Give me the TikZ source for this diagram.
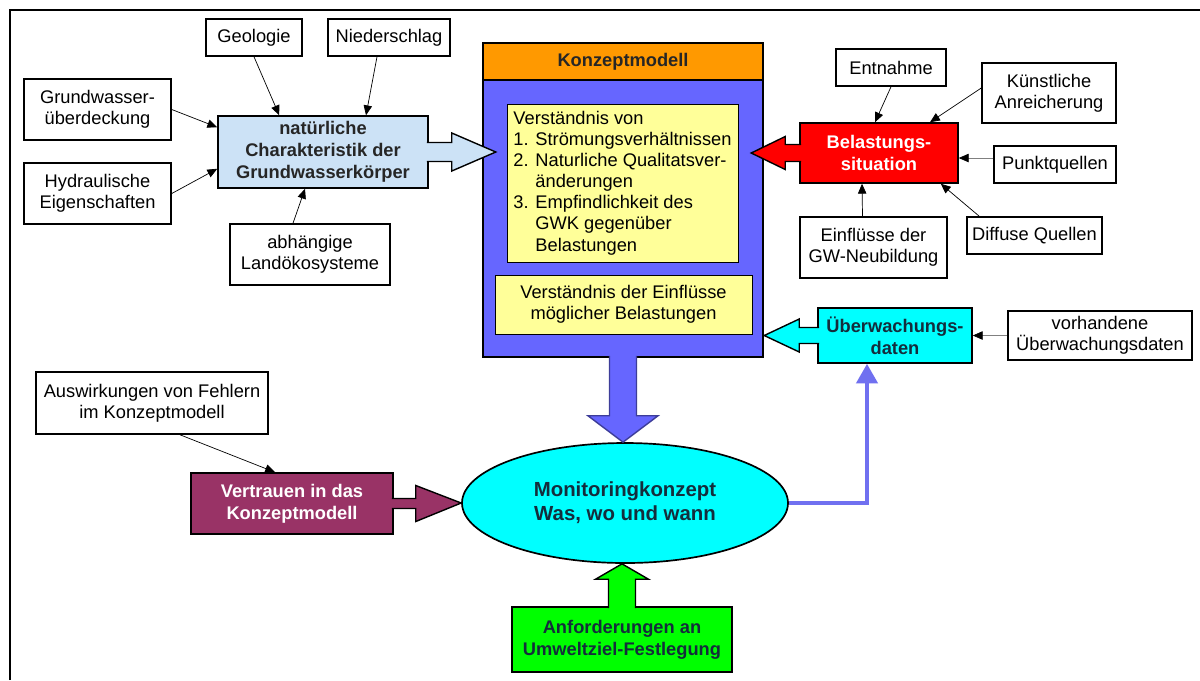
\documentclass[tikz,border=0pt]{standalone}
\usepackage{fontspec}
\setmainfont{Liberation Sans}
\usepackage{xcolor}
\usetikzlibrary{arrows.meta,calc,shapes.geometric}

\definecolor{natblau}{RGB}{204,226,246}
\definecolor{konzorange}{RGB}{255,153,0}
\definecolor{konzblau}{RGB}{102,102,255}
\definecolor{gelb}{RGB}{255,255,153}
\definecolor{belrot}{RGB}{255,0,0}
\definecolor{tuerkis}{RGB}{0,255,255}
\definecolor{weinrot}{RGB}{153,51,102}
\definecolor{hellgruen}{RGB}{0,255,0}
\definecolor{fbblau}{RGB}{112,112,240}
\definecolor{dunkeltext}{RGB}{20,45,60}

\begin{document}
\begin{tikzpicture}[
        x=0.025cm, y=-0.025cm,
        groesse/.style 2 args={minimum width=#1*0.025cm, minimum height=#2*0.025cm},
        kasten/.style={draw=black, line width=1.1pt, fill=white, align=center, inner sep=1pt, font=\fontsize{13}{15}\selectfont},
        fettkasten/.style={kasten, font=\fontsize{13}{15.5}\selectfont\bfseries},
        gelbkasten/.style={kasten, fill=gelb, line width=0.7pt},
        pfeil/.style={-{Triangle[length=7pt, width=6pt, color=black]}, line width=0.5pt},
        blockpfeil/.style={draw=black, line width=1pt, line join=miter},
        rueckpfeil/.style={-{Triangle[length=14pt, width=15pt]}, line width=3pt, draw=fbblau}
    ]
        % Frame
        \useasboundingbox (0,0) rectangle (1200,680);
        \fill[white] (0,0) rectangle (1200,680);
        \draw[line width=2pt] (10,680) -- (10,10) -- (1200,10);

        % Konzeptmodell
        \node[fettkasten, fill=konzblau, groesse={280}{277}] (konz) at (623,218.5) {};
        \node[fettkasten, fill=konzorange, text=black!85, groesse={280}{37}] (kopf) at (623,61.5) {Konzeptmodell};
        \node[gelbkasten, groesse={231}{158}, align=left] (gelb1) at (622.5,183) {Verständnis von\\1. Strömungsverhältnissen\\2. Naturliche Qualitatsver-\\\phantom{2. }änderungen\\3. Empfindlichkeit des\\\phantom{3. }GWK gegenüber\\\phantom{3. }Belastungen};
        \node[gelbkasten, groesse={257}{59}] (gelb2) at (623.5,304.5) {Verständnis der Einflüsse\\möglicher Belastungen};

        % Left side
        \node[kasten, groesse={96}{37}] (geo) at (254,37.5) {Geologie};
        \node[kasten, groesse={122}{37}] (nied) at (389,37.5) {Niederschlag};
        \node[kasten, groesse={147}{61}] (gwu) at (97.5,109.5) {Grundwasser-\\überdeckung};
        \node[kasten, groesse={147}{61}] (hyd) at (97.5,193.5) {Hydraulische\\Eigenschaften};
        \node[fettkasten, fill=natblau, text=black!85, groesse={210}{72}] (nat) at (323,152) {natürliche\\Charakteristik der\\Grundwasserkörper};
        \node[kasten, groesse={160}{61}] (land) at (310,254.5) {abhängige\\Landökosysteme};

        % Right side
        \node[fettkasten, fill=belrot, text=white, groesse={158}{60}] (belast) at (879,153) {Belastungs-\\situation};
        \node[kasten, groesse={110}{37}] (entn) at (891,67.5) {Entnahme};
        \node[kasten, groesse={134}{60}] (kuenst) at (1049,93) {Künstliche\\Anreicherung};
        \node[kasten, groesse={122}{37}] (punkt) at (1055,164.5) {Punktquellen};
        \node[kasten, groesse={147}{61}] (einfl) at (873.5,247.5) {Einflüsse der\\GW-Neubildung};
        \node[kasten, groesse={135}{37}] (diffus) at (1034.5,235.5) {Diffuse Quellen};
        \node[fettkasten, fill=tuerkis, text=dunkeltext, groesse={154}{55}] (ueberw) at (895,335.5) {Überwachungs-\\daten};
        \node[kasten, groesse={184}{49}] (vorh) at (1100,335.5) {vorhandene\\Überwachungsdaten};

        % Bottom
        \node[kasten, groesse={232}{62}] (ausw) at (152,403) {Auswirkungen von Fehlern\\im Konzeptmodell};
        \node[fettkasten, fill=weinrot, text=white, groesse={202}{61}] (vertr) at (292,503.5) {Vertrauen in das\\Konzeptmodell};
        \node[draw=black, line width=1.2pt, ellipse, fill=tuerkis, text=dunkeltext, align=center, inner sep=0pt,
              font=\fontsize{14.5}{17}\selectfont\bfseries, groesse={326}{120}] (mon) at (625,503) {Monitoringkonzept\\Was, wo und wann};
        \node[fettkasten, fill=hellgruen, text=dunkeltext, groesse={220}{65}] (anf) at (622,639.5) {Anforderungen an\\Umweltziel-Festlegung};

        % Block arrows
        \coordinate (natspitze) at ($(nat.east)+(67,0)$);
        \coordinate (belspitze) at ($(belast.west)+(-48,0)$);
        \coordinate (uebspitze) at ($(ueberw.west)+(-53,0)$);
        \filldraw[blockpfeil, fill=natblau] ($(nat.east)+(-2,-9.5)$) -- ++(25,0) -- ++(0,-9.5) -- (natspitze)
            -- ($(nat.east)+(23,19)$) -- ++(0,-9.5) -- ++(-25,0);
        \filldraw[blockpfeil, fill=belrot] ($(belast.west)+(2,-8.5)$) -- ++(-16,0) -- ++(0,-8) -- (belspitze)
            -- ($(belast.west)+(-14,16.5)$) -- ++(0,-8) -- ++(16,0);
        \filldraw[blockpfeil, fill=tuerkis] ($(ueberw.west)+(2,-8)$) -- ++(-20,0) -- ++(0,-8.5) -- (uebspitze)
            -- ($(ueberw.west)+(-18,16.5)$) -- ++(0,-8.5) -- ++(20,0);
        \filldraw[blockpfeil, fill=weinrot] ($(vertr.east)+(-2,-5)$) -- ++(24,0) -- ++(0,-13) -- (mon.west)
            -- ($(vertr.east)+(22,18)$) -- ++(0,-13) -- ++(-24,0);
        \filldraw[blockpfeil, fill=konzblau, draw=konzblau!60!black] ($(konz.south)+(-13.5,-2)$) -- ++(0,60) -- ++(-21.5,0)
            -- (konz.south |- mon.north) -- ($(konz.south)+(35,58)$) -- ++(-21.5,0) -- ++(0,-60);
        \filldraw[blockpfeil, fill=hellgruen] ($(anf.north)+(-13.5,2)$) -- ++(0,-29) -- ++(-13,0)
            -- (anf.north |- mon.south) -- ($(anf.north)+(26.5,-27)$) -- ++(-13,0) -- ++(0,29);

        % Thin arrows
        \draw[pfeil] (gwu.east) -- ($(nat.north west)+(0,12)$);
        \draw[pfeil] (hyd.east) -- ($(nat.south west)+(0,-20)$);
        \draw[pfeil] (geo.south) -- ($(nat.north west)+(62,0)$);
        \draw[pfeil] ($(nied.south)+(-12,0)$) -- ($(nat.north)+(43,0)$);
        \draw[pfeil] ($(land.north)+(-17,0)$) -- ($(nat.south)+(-18,0)$);
        \draw[pfeil] (entn.south) -- ($(belast.north)+(-4,0)$);
        \draw[pfeil] ($(kuenst.west)+(0,-5)$) -- ($(belast.north)+(51,0)$);
        \draw[pfeil, draw=gray] ($(punkt.west)+(0,-6.5)$) -- ($(belast.east)+(0,5)$);
        \draw[pfeil] ($(einfl.north)+(-11,0)$) -- ($(belast.south)+(-17,0)$);
        \draw[pfeil] ($(diffus.north west)+(13,0)$) -- ($(belast.south east)+(-18,0)$);
        \draw[pfeil, draw=gray] (vorh.west) -- (ueberw.east);
        \draw[pfeil] ($(ausw.south)+(28,0)$) -- ($(vertr.north)+(-17,0)$);

        % Feedback
        \draw[rueckpfeil] (mon.east) -| ($(ueberw.south)+(-28,0)$);
    \end{tikzpicture}
\end{document}
